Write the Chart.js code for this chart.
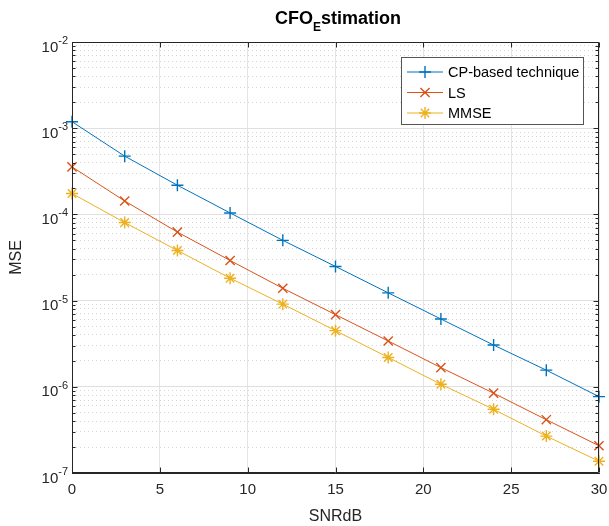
<!DOCTYPE html>
<html>
<head>
<meta charset="utf-8">
<title>CFO Estimation</title>
<script src="https://cdn.jsdelivr.net/npm/chart.js@4.4.0/dist/chart.umd.min.js"></script>
<style>
  html, body { margin: 0; padding: 0; background: #fff; }
  #wrap { width: 609px; height: 526px; }
</style>
</head>
<body>
<div id="wrap"><canvas id="mseChart" width="609" height="526"></canvas></div>
<script>
// ===== Data =====
const snrDb = [0, 3, 6, 9, 12, 15, 18, 21, 24, 27, 30];
const cpBased = [1.19e-3, 4.74e-4, 2.18e-4, 1.04e-4, 5.0e-5, 2.49e-5, 1.23e-5, 6.12e-6, 3.05e-6, 1.56e-6, 7.69e-7];
const lsMse   = [3.56e-4, 1.43e-4, 6.24e-5, 2.92e-5, 1.39e-5, 6.87e-6, 3.40e-6, 1.67e-6, 8.43e-7, 4.15e-7, 2.07e-7];
const mmseMse = [1.75e-4, 8.04e-5, 3.82e-5, 1.82e-5, 9.1e-6, 4.48e-6, 2.19e-6, 1.07e-6, 5.48e-7, 2.68e-7, 1.37e-7];

const seriesLabels = ['CP-based technique', 'LS', 'MMSE'];
const xTicks = [0, 5, 10, 15, 20, 25, 30];
const yExponents = [-7, -6, -5, -4, -3, -2];
const minorSteps = [2, 3, 4, 5, 6, 7, 8, 9];

const FONT = "Arial, 'Liberation Sans', Helvetica, sans-serif";
const AXIS_COLOR = '#262626';
const colors = ['#0072BD', '#D95319', '#EDB120'];
const markers = ['cross', 'crossRot', 'star'];

const majorTicks = yExponents.map(e => ({ value: Math.pow(10, e) }));
const minorTicks = [];
yExponents.slice(0, -1).forEach(e => {
  minorSteps.forEach(m => minorTicks.push({ value: m * Math.pow(10, e) }));
});

function toPoints(arr) {
  return snrDb.map((x, i) => ({ x: x, y: arr[i] }));
}

// ===== MATLAB-style decorations: box, inner ticks, y labels, titles, legend =====
const matlabDecor = {
  id: 'matlabDecor',
  afterDraw(chart) {
    const ctx = chart.ctx;
    const area = chart.chartArea;
    const xs = chart.scales.x;
    const ys = chart.scales.y;
    const L = Math.round(area.left) + 0.5, R = Math.round(area.right) - 0.5;
    const T = Math.round(area.top) + 0.5, B = Math.round(area.bottom) - 0.5;

    ctx.save();
    ctx.strokeStyle = AXIS_COLOR;
    ctx.lineWidth = 1;

    // box
    ctx.beginPath();
    ctx.moveTo(L, T); ctx.lineTo(R, T); ctx.lineTo(R, B);
    ctx.moveTo(L, T); ctx.lineTo(L, B); ctx.lineTo(R, B);
    ctx.stroke();

    // inner tick marks
    ctx.beginPath();
    xTicks.forEach(v => {
      const px = Math.round(xs.getPixelForValue(v)) + 0.5;
      ctx.moveTo(px, B); ctx.lineTo(px, B - 5);
      ctx.moveTo(px, T); ctx.lineTo(px, T + 5);
    });
    majorTicks.forEach(t => {
      const py = Math.round(ys.getPixelForValue(t.value)) + 0.5;
      ctx.moveTo(L, py); ctx.lineTo(L + 5, py);
      ctx.moveTo(R, py); ctx.lineTo(R - 5, py);
    });
    minorTicks.forEach(t => {
      const py = Math.round(ys.getPixelForValue(t.value)) + 0.5;
      ctx.moveTo(L, py); ctx.lineTo(L + 3, py);
      ctx.moveTo(R, py); ctx.lineTo(R - 3, py);
    });
    ctx.stroke();

    // y tick labels 10^e
    ctx.fillStyle = AXIS_COLOR;
    ctx.textBaseline = 'alphabetic';
    ctx.textAlign = 'left';
    yExponents.forEach(e => {
      const py = ys.getPixelForValue(Math.pow(10, e));
      const sup = String(e);
      ctx.font = '11px ' + FONT;
      const wSup = ctx.measureText(sup).width;
      ctx.font = '15px ' + FONT;
      const wBase = ctx.measureText('10').width;
      const right = area.left - 4;
      ctx.fillText('10', right - wSup - wBase, py + 9.5);
      ctx.font = '11px ' + FONT;
      ctx.fillText(sup, right - wSup, py + 2);
    });

    // y axis title
    ctx.save();
    ctx.translate(17, (area.top + area.bottom) / 2);
    ctx.rotate(-Math.PI / 2);
    ctx.textAlign = 'center';
    ctx.textBaseline = 'middle';
    ctx.font = '16px ' + FONT;
    ctx.fillText('MSE', 0, 0);
    ctx.restore();

    // chart title with subscript
    const parts = [
      { t: 'CFO', f: 'bold 18px ' + FONT, dy: 0 },
      { t: 'E', f: 'bold 12px ' + FONT, dy: 7 },
      { t: 'stimation', f: 'bold 18px ' + FONT, dy: 0 }
    ];
    let total = 0;
    parts.forEach(p => { ctx.font = p.f; p.w = ctx.measureText(p.t).width; total += p.w; });
    let tx = 338 - total / 2;
    ctx.fillStyle = '#000';
    ctx.textAlign = 'left';
    ctx.textBaseline = 'alphabetic';
    parts.forEach(p => { ctx.font = p.f; ctx.fillText(p.t, tx, 24 + p.dy); tx += p.w; });

    // legend (inside, north-east)
    const lx = 401, ly = 57, lw = 182, lh = 67;
    ctx.fillStyle = '#fff';
    ctx.fillRect(lx, ly, lw, lh);
    ctx.strokeStyle = '#555';
    ctx.lineWidth = 1;
    ctx.strokeRect(lx + 0.5, ly + 0.5, lw, lh);
    chart.data.datasets.forEach((ds, i) => {
      const rowY = 72 + i * 20.5;
      ctx.strokeStyle = ds.borderColor;
      ctx.fillStyle = ds.borderColor;
      ctx.lineWidth = 1;
      ctx.beginPath();
      ctx.moveTo(407, rowY); ctx.lineTo(443, rowY);
      ctx.stroke();
      ctx.lineWidth = ds.pointBorderWidth;
      Chart.helpers.drawPoint(ctx, { pointStyle: ds.pointStyle, radius: ds.pointRadius, borderWidth: ds.pointBorderWidth, rotation: 0 }, 425, rowY);
      ctx.fillStyle = '#000';
      ctx.font = '14.5px ' + FONT;
      ctx.textBaseline = 'middle';
      ctx.fillText(ds.label, 448, rowY + 1);
    });
    ctx.restore();
  }
};

const datasets = [cpBased, lsMse, mmseMse].map((arr, i) => ({
  label: seriesLabels[i],
  data: toPoints(arr),
  borderColor: colors[i],
  backgroundColor: colors[i],
  borderWidth: 1,
  tension: 0,
  pointStyle: markers[i],
  pointRadius: i === 1 ? 6.5 : 6,
  pointBorderWidth: 1.4,
  pointBorderColor: colors[i],
  pointBackgroundColor: colors[i],
  clip: false
}));

new Chart(document.getElementById('mseChart').getContext('2d'), {
  type: 'line',
  data: { datasets: datasets },
  options: {
    responsive: false,
    animation: false,
    layout: { padding: { left: 0, right: 10, top: 42, bottom: 0 } },
    plugins: { legend: { display: false }, title: { display: false }, tooltip: { enabled: false } },
    scales: {
      x: {
        type: 'linear', min: 0, max: 30,
        afterBuildTicks: s => { s.ticks = xTicks.map(v => ({ value: v })); },
        afterFit: s => { s.height = 53; s.paddingLeft = 0; s.paddingRight = 0; },
        grid: { color: '#e4e4e4', drawTicks: false },
        border: { color: AXIS_COLOR },
        ticks: { color: AXIS_COLOR, font: { family: FONT, size: 15 }, padding: 8, maxRotation: 0 },
        title: { display: true, text: 'SNRdB', color: AXIS_COLOR, font: { family: FONT, size: 16 }, padding: { top: 0, bottom: 0 } }
      },
      y: {
        type: 'logarithmic', min: 1e-7, max: 1e-2,
        afterBuildTicks: s => { s.ticks = majorTicks.map(t => ({ value: t.value })); },
        afterFit: s => { s.width = 72; },
        ticks: { display: false },
        grid: { color: '#e0e0e0', drawTicks: false },
        border: { color: AXIS_COLOR }
      },
      yMinor: {
        type: 'logarithmic', position: 'left', min: 1e-7, max: 1e-2,
        afterBuildTicks: s => { s.ticks = minorTicks.map(t => ({ value: t.value })); },
        afterFit: s => { s.width = 0; },
        ticks: { display: false },
        grid: { color: '#d6d6d6', drawTicks: false },
        border: { display: false, dash: [1, 3] }
      }
    }
  },
  plugins: [matlabDecor]
});
</script>
</body>
</html>
